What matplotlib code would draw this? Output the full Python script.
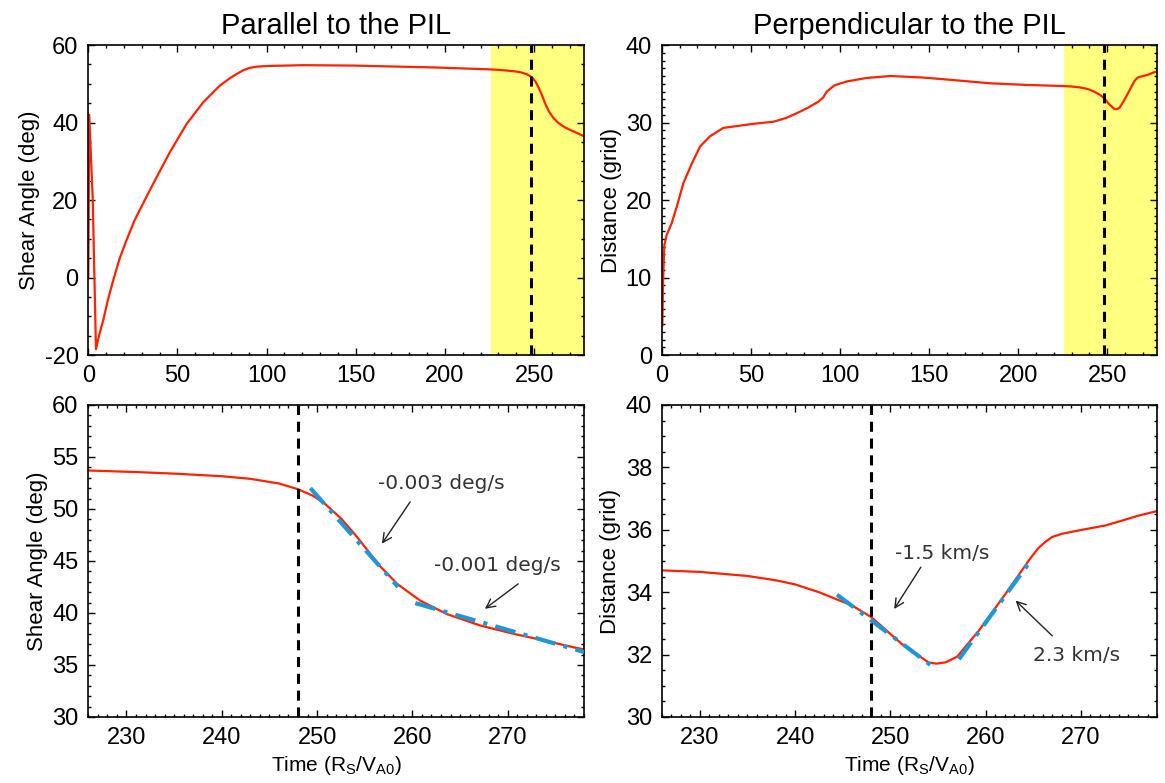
"""Shear angle and distance evolution near the PIL."""
import matplotlib
matplotlib.use('Agg')
import matplotlib.pyplot as plt
from matplotlib.ticker import MultipleLocator

plt.rcParams['font.family'] = ['Liberation Sans', 'DejaVu Sans']
plt.rcParams['axes.unicode_minus'] = False
plt.rcParams['mathtext.default'] = 'regular'

# shear angle, parallel to the PIL
t_par = [0, 0.5, 2.5, 4.3, 6, 8.4, 11, 14, 17.5, 21.5, 26, 32.7, 39, 45.7,
         55.1, 64.4, 73.7, 79, 83.1, 87, 90.5, 95, 101.7, 120.4, 148.4, 195,
         226, 231, 235, 240, 243, 246, 248, 249.5, 250.7, 252.5, 254.2, 256.6,
         258.4, 260.8, 263.6, 267.1, 270.6, 274.1, 276.9, 278]
shear = [0, 42, 20, -18.5, -15, -11, -5.8, -0.7, 4.8, 9.7, 14.8, 20.9, 26.5,
         32.3, 39.6, 45.2, 49.5, 51.3, 52.5, 53.5, 54.1, 54.45, 54.6, 54.8,
         54.7, 54.2, 53.7, 53.55, 53.4, 53.15, 52.9, 52.45, 51.9, 51.3, 50.6,
         49.1, 47.3, 44.5, 42.8, 41.2, 39.9, 38.8, 38.0, 37.3, 36.7, 36.5]

# distance, perpendicular to the PIL
t_perp = [0.35, 0.8, 1.5, 2.8, 5.6, 8.4, 12.2, 16.9, 21.5, 27, 34.5, 44, 52,
          62.7, 70, 75.8, 82, 88, 90.5, 92.7, 97, 103.9, 115, 128.3, 147, 165,
          184.4, 205, 226, 230, 235, 238, 240, 242.5, 246, 248, 251.2, 254,
          254.8, 255.8, 257, 259.3, 262.1, 264.5, 265.5, 266.3, 267, 268,
          269.8, 272.6, 274.4, 276, 278]
dist = [3.8, 10, 14.2, 15.5, 17, 19.1, 22.2, 24.7, 26.9, 28.2, 29.3, 29.6,
        29.85, 30.1, 30.6, 31.2, 31.9, 32.7, 33.2, 34.0, 34.8, 35.3, 35.75,
        36.0, 35.8, 35.45, 35.06, 34.85, 34.7, 34.65, 34.52, 34.38, 34.25,
        34.0, 33.57, 33.2, 32.34, 31.75, 31.71, 31.75, 31.93, 32.77, 33.95,
        35.0, 35.4, 35.62, 35.77, 35.87, 35.98, 36.14, 36.3, 36.45, 36.6]

# linear fits
fit_par_t = [[249.3, 258.5], [260.3, 278]]
fit_par_y = [[52.0, 42.5], [40.95, 36.25]]
fit_perp_t = [[244.4, 254.2], [257.2, 264.5]]
fit_perp_y = [[33.92, 31.67], [31.85, 34.91]]

t_onset = 248
zoom_win = (226, 278)

RED = '#ff2200'
BLUE = '#1f96d8'


def style(ax, xmaj, xmin, ymaj, ymin):
    ax.xaxis.set_major_locator(MultipleLocator(xmaj))
    ax.xaxis.set_minor_locator(MultipleLocator(xmin))
    ax.yaxis.set_major_locator(MultipleLocator(ymaj))
    ax.yaxis.set_minor_locator(MultipleLocator(ymin))
    ax.tick_params(which='both', direction='in', top=True, right=True,
                   labelsize=17, width=1)
    ax.tick_params(which='major', length=5, pad=7)
    ax.tick_params(which='minor', length=2.5)
    for s in ax.spines.values():
        s.set_linewidth(1.2)


def onset(ax):
    ax.axvline(t_onset, color='k', lw=2.2, dashes=(3.3, 2.2), zorder=3)


fig = plt.figure(figsize=(11.65, 7.83), dpi=100)
ax1 = fig.add_axes([0.0758, 0.5466, 0.4255, 0.3959])
ax2 = fig.add_axes([0.5680, 0.5466, 0.4252, 0.3959])
ax3 = fig.add_axes([0.0758, 0.0843, 0.4255, 0.3985])
ax4 = fig.add_axes([0.5680, 0.0843, 0.4252, 0.3985])

# top row
for ax, t, y in [(ax1, t_par, shear), (ax2, t_perp, dist)]:
    ax.axvspan(*zoom_win, color='#ffff80', lw=0, zorder=0)
    ax.plot(t, y, color=RED, lw=1.6, zorder=2)
    onset(ax)
    ax.set_xlim(0, 278)

ax1.set_ylim(-20, 60)
style(ax1, 50, 10, 20, 5)
ax1.set_title('Parallel to the PIL', fontsize=21, pad=8)
ax1.set_ylabel('Shear Angle (deg)', fontsize=16, labelpad=3)

ax2.set_ylim(0, 40)
style(ax2, 50, 10, 10, 1)
ax2.set_title('Perpendicular to the PIL', fontsize=21, pad=8)
ax2.set_ylabel('Distance (grid)', fontsize=16, labelpad=3)

# bottom row
for ax, t, y, ft, fy in [(ax3, t_par, shear, fit_par_t, fit_par_y),
                         (ax4, t_perp, dist, fit_perp_t, fit_perp_y)]:
    ax.plot(t, y, color=RED, lw=1.6, zorder=2)
    for xs, ys in zip(ft, fy):
        ax.plot(xs, ys, color=BLUE, lw=3, dashes=(5, 2, 1, 2), zorder=3,
                solid_capstyle='butt', dash_capstyle='butt')
    onset(ax)
    ax.set_xlim(*zoom_win)
    ax.set_xlabel('Time (R$_S$/V$_{A0}$)', fontsize=15, labelpad=4)

ax3.set_ylim(30, 60)
style(ax3, 10, 1, 5, 1)
ax3.set_ylabel('Shear Angle (deg)', fontsize=16, labelpad=3)

ax4.set_ylim(30, 40)
style(ax4, 10, 1, 2, 0.5)
ax4.set_ylabel('Distance (grid)', fontsize=16, labelpad=3)

notes = [
    (ax3, '-0.003 deg/s', (263.0, 52.45), (256.8, 46.66), (259.76, 50.68)),
    (ax3, '-0.001 deg/s', (268.9, 44.57), (267.6, 40.4), (271.1, 42.8)),
    (ax4, '-1.5 km/s', (255.4, 35.23), (250.4, 33.46), (253.2, 34.8)),
    (ax4, '2.3 km/s', (269.5, 31.96), (263.15, 33.73), (267.0, 32.6)),
]
for ax, txt, pos, head, tail in notes:
    ax.text(*pos, txt, fontsize=14.5, color='#333333', ha='center', va='center',
            family='DejaVu Sans')
    ax.annotate('', xy=head, xytext=tail,
                arrowprops=dict(arrowstyle='->', lw=1, color='#222222',
                                shrinkA=0, shrinkB=0, mutation_scale=16))

fig.savefig('out.png', dpi=100)
